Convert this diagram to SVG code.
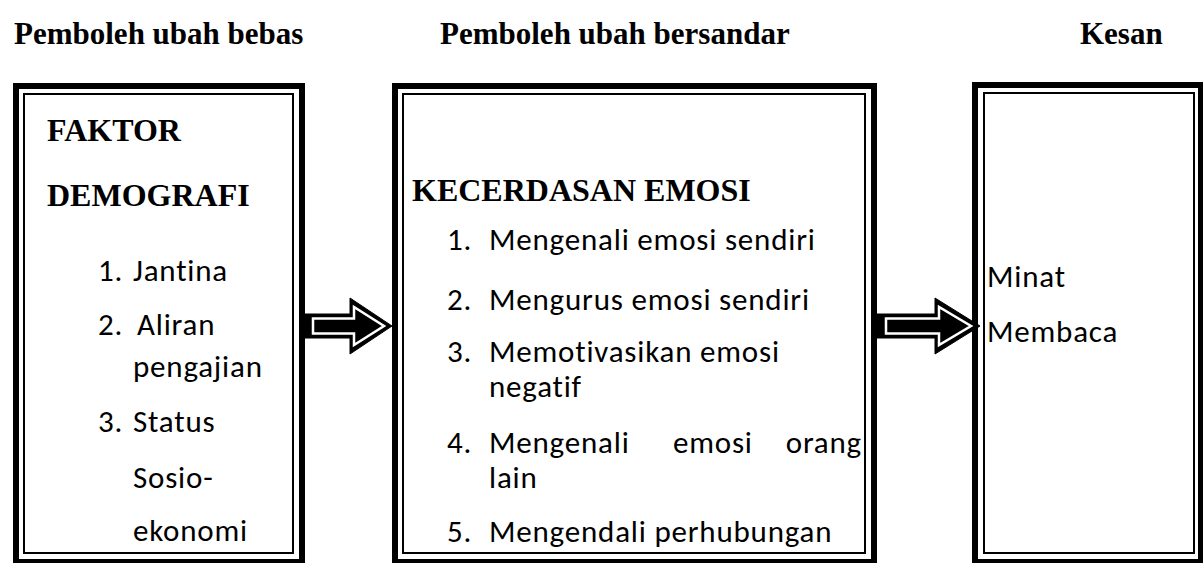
<svg xmlns="http://www.w3.org/2000/svg" width="1203" height="563" viewBox="0 0 1203 563">
<style>
.hdr{font-family:"Liberation Serif","Times New Roman",serif;font-weight:bold;font-size:31px;fill:#000}
.ttl{font-family:"Liberation Serif","Times New Roman",serif;font-weight:bold;font-size:32px;fill:#000}
.txt{font-family:Carlito,Lato,"Open Sans",sans-serif;font-size:31px;letter-spacing:0.8px;fill:#000}
.outer{fill:#fff;stroke:#000;stroke-width:6}
.inner{fill:none;stroke:#000;stroke-width:2}
.arw{fill:#000;stroke:#000;stroke-width:1;stroke-linejoin:miter}
.arwin{fill:none;stroke:#fff;stroke-width:2.5;stroke-linejoin:miter}
</style>
<rect width="1203" height="563" fill="#fff"/>
<g id="headers">
<text class="hdr" x="14" y="44">Pemboleh ubah bebas</text>
<text class="hdr" x="440" y="44">Pemboleh ubah bersandar</text>
<text class="hdr" x="1080" y="44">Kesan</text>
</g>
<g id="node-faktor">
<rect class="outer" x="16" y="86" width="286" height="476"/>
<rect class="inner" x="24" y="94" width="269" height="459"/>
<text class="ttl" x="47" y="141">FAKTOR</text>
<text class="ttl" x="47" y="206">DEMOGRAFI</text>
<text class="txt" x="98" y="281">1.</text><text class="txt" x="133" y="281">Jantina</text>
<text class="txt" x="98" y="335">2.</text><text class="txt" x="137" y="335">Aliran</text>
<text class="txt" x="133" y="377">pengajian</text>
<text class="txt" x="98" y="432">3.</text><text class="txt" x="133" y="432">Status</text>
<text class="txt" x="133" y="488">Sosio-</text>
<text class="txt" x="133" y="541">ekonomi</text>
</g>
<g id="node-kecerdasan">
<rect class="outer" x="395" y="86" width="479" height="476"/>
<rect class="inner" x="403" y="94" width="462" height="459"/>
<text class="ttl" x="412" y="201">KECERDASAN EMOSI</text>
<text class="txt" x="447" y="250">1.</text><text class="txt" x="489" y="250">Mengenali emosi sendiri</text>
<text class="txt" x="447" y="310">2.</text><text class="txt" x="489" y="310">Mengurus emosi sendiri</text>
<text class="txt" x="447" y="362">3.</text><text class="txt" x="489" y="362">Memotivasikan emosi</text>
<text class="txt" x="489" y="397">negatif</text>
<text class="txt" x="447" y="453">4.</text><text class="txt" x="489" y="453">Mengenali</text><text class="txt" x="673" y="453">emosi</text><text class="txt" x="862" y="453" text-anchor="end">orang</text>
<text class="txt" x="489" y="488">lain</text>
<text class="txt" x="447" y="542">5.</text><text class="txt" x="489" y="542">Mengendali perhubungan</text>
</g>
<g id="node-kesan">
<rect class="outer" x="975" y="85" width="226" height="477"/>
<rect class="inner" x="984" y="93" width="210" height="460"/>
<text class="txt" x="987" y="287">Minat</text>
<text class="txt" x="987" y="342">Membaca</text>
</g>
<g id="connectors">
<polygon class="arw" points="305,314 350,314 350,298 392,326 350,354 350,338 305,338"/>
<polygon class="arwin" points="313,318.5 354,318.5 354,307 384,326 354,345 354,333.5 313,333.5"/>
<polygon class="arw" points="877,314 935,314 935,298 980,326 935,354 935,338 877,338"/>
<polygon class="arwin" points="886,318.5 939,318.5 939,307 971,326 939,345 939,333.5 886,333.5"/>
</g>
</svg>
